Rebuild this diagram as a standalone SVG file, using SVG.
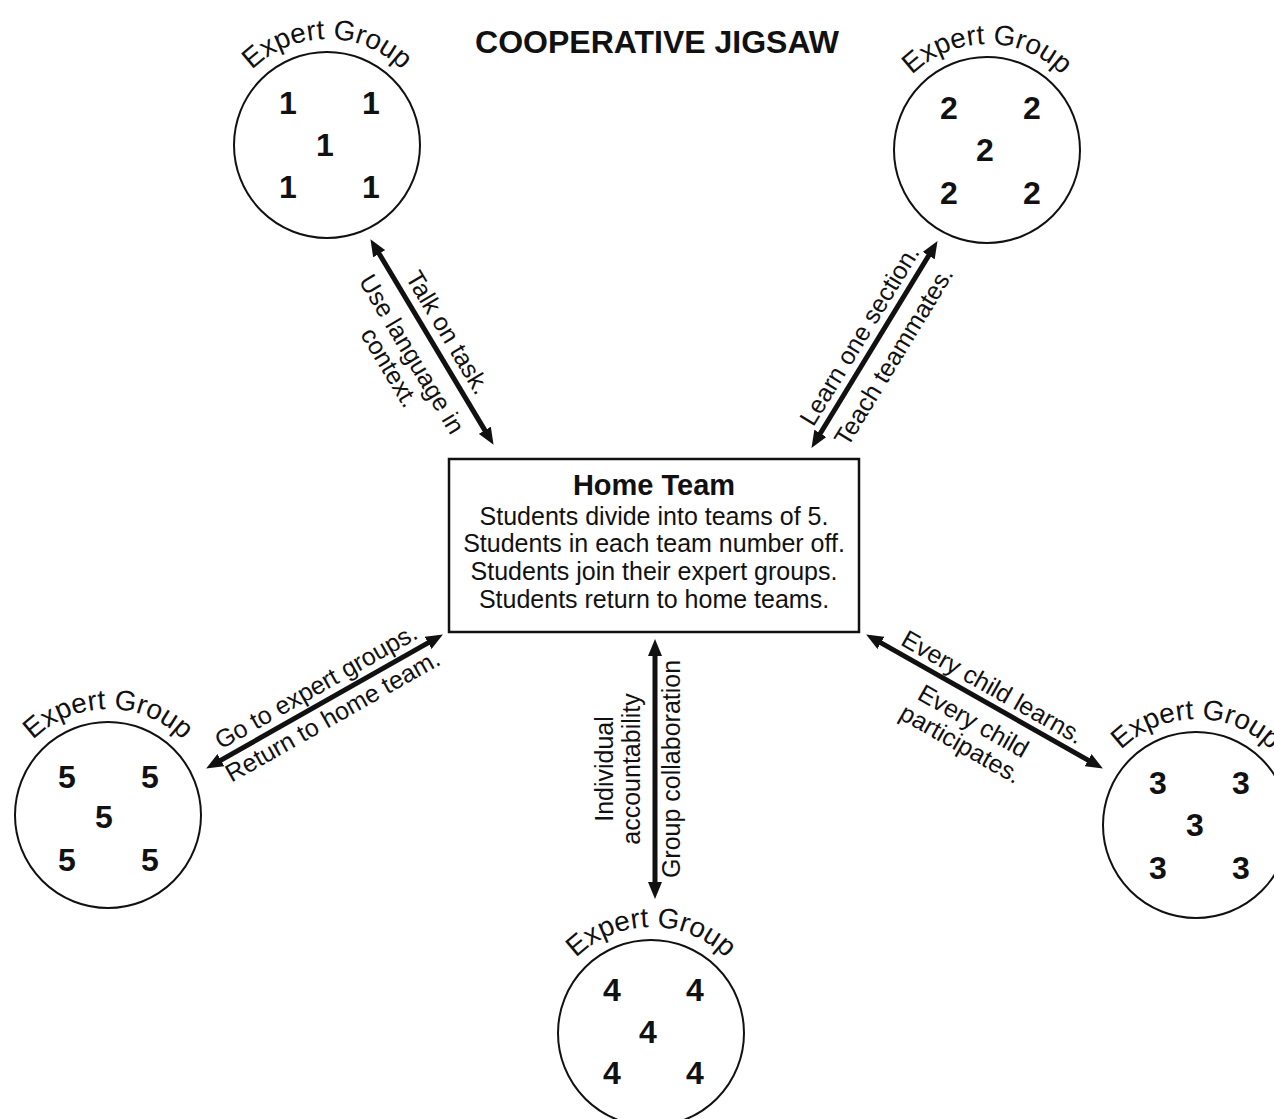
<svg xmlns="http://www.w3.org/2000/svg" width="1274" height="1119" viewBox="0 0 1274 1119">
<style>
text{font-family:"Liberation Sans",Arial,Helvetica,sans-serif;fill:#111;}
.title{font-size:32px;font-weight:bold;text-anchor:middle;}
.arc{font-size:28px;}
.dig{font-size:32px;font-weight:bold;text-anchor:middle;}
.lbl{font-size:25px;text-anchor:middle;}
.box{font-size:25px;text-anchor:middle;}
.boxt{font-size:29px;font-weight:bold;text-anchor:middle;}
.circ{fill:#fff;stroke:#111;stroke-width:2;}
.conn{stroke:#111;stroke-width:5;fill:none;marker-start:url(#ah);marker-end:url(#ah);}
</style>
<defs>
<marker id="ah" markerUnits="userSpaceOnUse" markerWidth="18" markerHeight="14" refX="6" refY="7" orient="auto-start-reverse" viewBox="0 0 18 14">
<path d="M0,0 L17,7 L0,14 Z" fill="#111"/>
</marker>
<path id="arc1" d="M221,145 A106,106 0 0 1 433,145"/>
<path id="arc2" d="M881,150 A106,106 0 0 1 1093,150"/>
<path id="arc3" d="M1090,825 A106,106 0 0 1 1302,825"/>
<path id="arc4" d="M545,1033 A106,106 0 0 1 757,1033"/>
<path id="arc5" d="M2,815 A106,106 0 0 1 214,815"/>
</defs>
<rect width="1274" height="1119" fill="#fff"/>
<text class="title" x="657" y="53">COOPERATIVE JIGSAW</text>

<g id="connectors">
<line class="conn" x1="376.1" y1="248.6" x2="487.9" y2="435.4"/>
<line class="conn" x1="931.8" y1="250.5" x2="817.2" y2="438.5"/>
<line class="conn" x1="875.7" y1="639.9" x2="1093.3" y2="763.1"/>
<line class="conn" x1="655" y1="650" x2="655" y2="888"/>
<line class="conn" x1="433.3" y1="639.9" x2="215.7" y2="763.1"/>
<g transform="translate(432,342) rotate(59.1)">
<text class="lbl" x="0" y="-10">Talk on task.</text>
<text class="lbl" x="0" y="32">Use language in</text>
<text class="lbl" x="0" y="58">context.</text>
</g>
<g transform="translate(874.5,344.5) rotate(-58.6)">
<text class="lbl" x="0" y="-9">Learn one section.</text>
<text class="lbl" x="0" y="31">Teach teammates.</text>
</g>
<g transform="translate(984.5,701.5) rotate(29.5)">
<text class="lbl" x="0" y="-8">Every child learns.</text>
<text class="lbl" x="0" y="31">Every child</text>
<text class="lbl" x="0" y="57">participates.</text>
</g>
<g transform="translate(655,769) rotate(-90)">
<text class="lbl" x="0" y="-42">Individual</text>
<text class="lbl" x="0" y="-15">accountability</text>
<text class="lbl" x="0" y="25">Group collaboration</text>
</g>
<g transform="translate(324.5,701.5) rotate(-29.5)">
<text class="lbl" x="0" y="-9">Go to expert groups.</text>
<text class="lbl" x="0" y="25">Return to home team.</text>
</g>
</g>

<g id="home-team">
<rect x="449" y="459" width="410" height="173" fill="#fff" stroke="#111" stroke-width="2.5"/>
<text class="boxt" x="654" y="495">Home Team</text>
<text class="box" x="654" y="525">Students divide into teams of 5.</text>
<text class="box" x="654" y="552">Students in each team number off.</text>
<text class="box" x="654" y="580">Students join their expert groups.</text>
<text class="box" x="654" y="608">Students return to home teams.</text>
</g>

<g id="expert-group-1">
<circle class="circ" cx="327" cy="145" r="93"/>
<text class="arc"><textPath href="#arc1" startOffset="50%" text-anchor="middle">Expert Group</textPath></text>
<text class="dig" x="288" y="114">1</text>
<text class="dig" x="371" y="114">1</text>
<text class="dig" x="325" y="156">1</text>
<text class="dig" x="288" y="198">1</text>
<text class="dig" x="371" y="198">1</text>
</g>

<g id="expert-group-2">
<circle class="circ" cx="987" cy="150" r="93"/>
<text class="arc"><textPath href="#arc2" startOffset="50%" text-anchor="middle">Expert Group</textPath></text>
<text class="dig" x="949" y="119">2</text>
<text class="dig" x="1032" y="119">2</text>
<text class="dig" x="985" y="161">2</text>
<text class="dig" x="949" y="204">2</text>
<text class="dig" x="1032" y="204">2</text>
</g>

<g id="expert-group-3">
<circle class="circ" cx="1196" cy="825" r="93"/>
<text class="arc"><textPath href="#arc3" startOffset="50%" text-anchor="middle">Expert Group</textPath></text>
<text class="dig" x="1158" y="794">3</text>
<text class="dig" x="1241" y="794">3</text>
<text class="dig" x="1195" y="836">3</text>
<text class="dig" x="1158" y="879">3</text>
<text class="dig" x="1241" y="879">3</text>
</g>

<g id="expert-group-4">
<circle class="circ" cx="651" cy="1033" r="93"/>
<text class="arc"><textPath href="#arc4" startOffset="50%" text-anchor="middle">Expert Group</textPath></text>
<text class="dig" x="612" y="1001">4</text>
<text class="dig" x="695" y="1001">4</text>
<text class="dig" x="648" y="1043">4</text>
<text class="dig" x="612" y="1084">4</text>
<text class="dig" x="695" y="1084">4</text>
</g>

<g id="expert-group-5">
<circle class="circ" cx="108" cy="815" r="93"/>
<text class="arc"><textPath href="#arc5" startOffset="50%" text-anchor="middle">Expert Group</textPath></text>
<text class="dig" x="67" y="788">5</text>
<text class="dig" x="150" y="788">5</text>
<text class="dig" x="104" y="828">5</text>
<text class="dig" x="67" y="871">5</text>
<text class="dig" x="150" y="871">5</text>
</g>
</svg>
